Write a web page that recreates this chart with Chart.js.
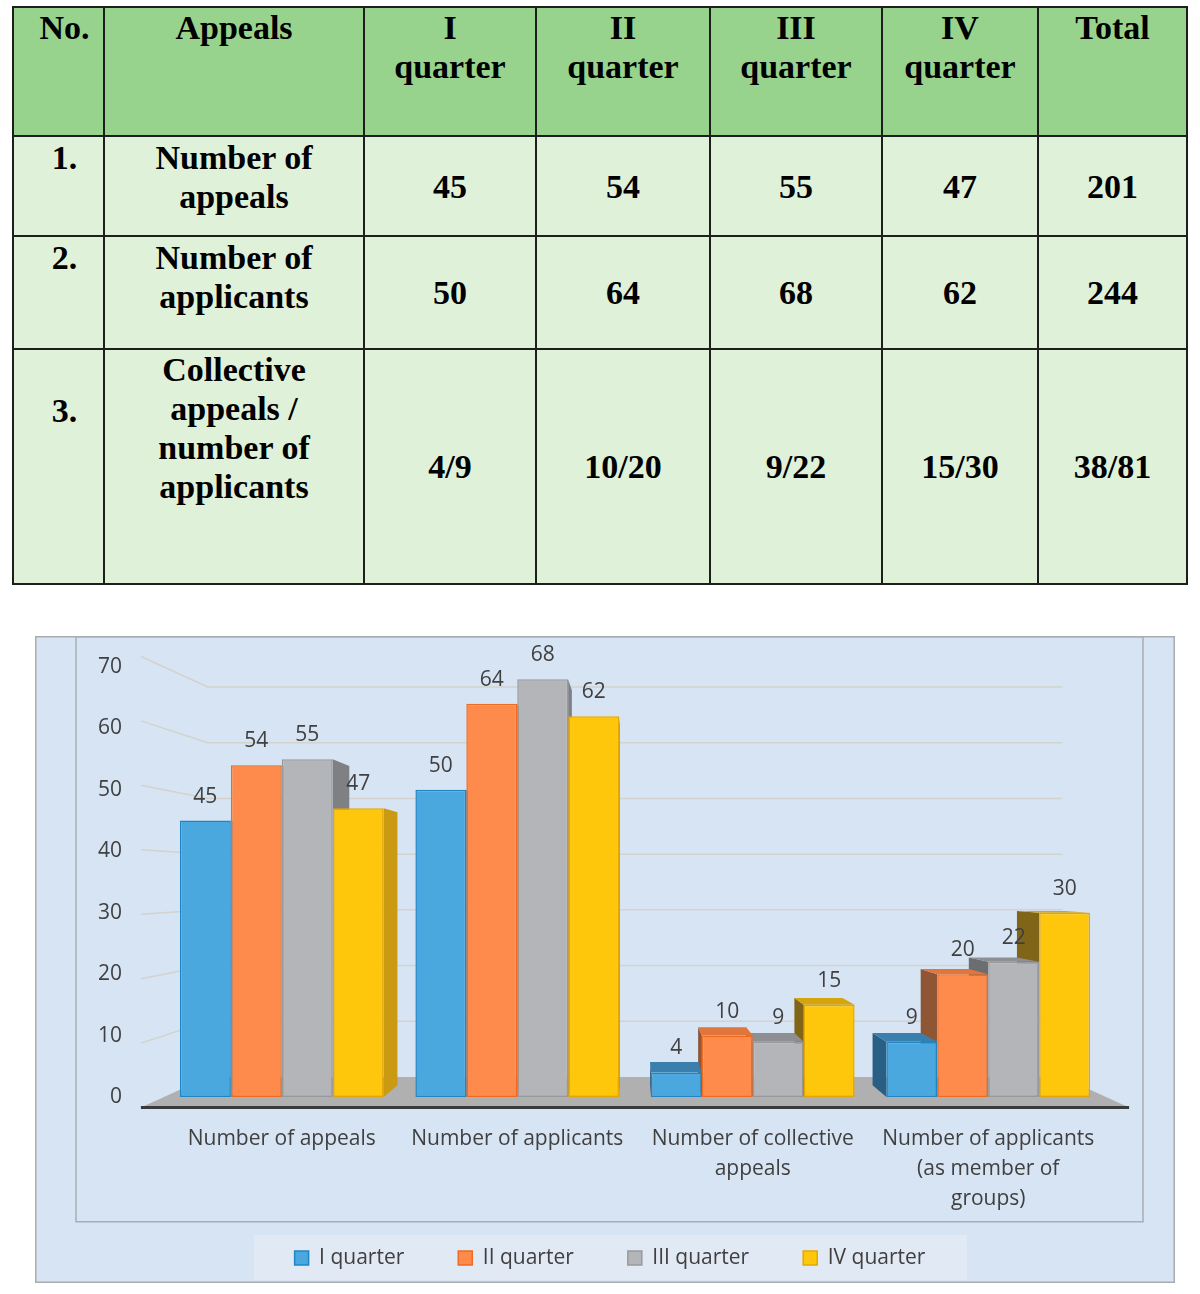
<!DOCTYPE html>
<html>
<head>
<meta charset="utf-8">
<script src="https://cdn.jsdelivr.net/npm/chart.js@4.4.1/dist/chart.umd.min.js"></script>
<style>
  body { margin: 0; background: #fff; width: 1200px; height: 1294px; position: relative; overflow: hidden; }
  table.stats {
    position: absolute; left: 12px; top: 6px;
    border-collapse: collapse; table-layout: fixed;
    font-family: "Liberation Serif", "Times New Roman", serif;
    font-weight: bold; font-size: 34px; line-height: 39px; color: #000;
  }
  table.stats td { border: 2px solid #1e1e1e; text-align: center; vertical-align: top; padding: 0 2px; }
  table.stats tr.head td { background: #98d38e; padding-top: 0; }
  table.stats tr.body td { background: #e0f1da; }
  table.stats tr.body td.num { vertical-align: middle; }
  table.stats td.no { padding-left: 14px; }
  #chart-box { position: absolute; left: 35px; top: 636px; width: 1140px; height: 647px; }
</style>
</head>
<body>
<table class="stats" id="stats-table"></table>
<div id="chart-box"><canvas id="chart-canvas"></canvas></div>
<script>
// table data
const tableHead = ["No.", "Appeals", "I<br>quarter", "II<br>quarter", "III<br>quarter", "IV<br>quarter", "Total"];
const rowNumbers = ["1.", "2.", "3."];
const rowNames = ["Number of<br>appeals", "Number of<br>applicants", "Collective<br>appeals /<br>number of<br>applicants"];
const rowValues = [
  ["45", "54", "55", "47", "201"],
  ["50", "64", "68", "62", "244"],
  ["4/9", "10/20", "9/22", "15/30", "38/81"]
];
const colWidths = [91, 260, 172, 174, 172, 156, 149];
const rowHeights = [129, 100, 113, 235];

// chart data
const categories = [
  ["Number of appeals"],
  ["Number of applicants"],
  ["Number of collective", "appeals"],
  ["Number of applicants", "(as member of", "groups)"]
];
const quarterNames = ["I quarter", "II quarter", "III quarter", "IV quarter"];
const q1Values = [45, 50, 4, 9];
const q2Values = [54, 64, 10, 20];
const q3Values = [55, 68, 9, 22];
const q4Values = [47, 62, 15, 30];
const yTicks = [0, 10, 20, 30, 40, 50, 60, 70];

const frontColors = ["#4aa8de", "#fe8b4b", "#b4b5b8", "#ffc70b"];
const edgeColors = ["#1f86c6", "#f06a1f", "#98999c", "#e6a600"];
const sideRightColors = ["#3a86b6", "#cf6c36", "#7f8083", "#c99a12"];
const sideLeftColors = ["#2a5f85", "#8e5635", "#6c6d70", "#806418"];
const topColors = ["#3b7fae", "#e0763b", "#8e8f92", "#d6a40c"];

function buildTable() {
  const table = document.getElementById("stats-table");
  let html = "<colgroup>" + colWidths.map((w) => `<col style="width:${w}px">`).join("") + "</colgroup>";
  html += `<tr class="head" style="height:${rowHeights[0]}px">` +
    tableHead.map((t, i) => `<td${i === 0 ? ' class="no"' : ""}>${t}</td>`).join("") + "</tr>";
  rowNumbers.forEach((n, r) => {
    const pad = r === 2 ? ' style="padding-top:41px"' : ' style="padding-top:1px"';
    html += `<tr class="body" style="height:${rowHeights[r + 1]}px">` +
      `<td class="no"${pad}>${n}</td><td${r === 2 ? "" : ' style="padding-top:1px"'}>${rowNames[r]}</td>` +
      rowValues[r].map((v) => `<td class="num">${v}</td>`).join("") + "</tr>";
  });
  table.innerHTML = html;
}
buildTable();

// perspective factors (relative to the plot centre)
const BACK_WALL = 0.907;
const FLOOR_FRONT = 1.049;
const BAR_DEPTH = 0.945;

function proj(ca, x, y, s) {
  const cx = (ca.left + ca.right) / 2;
  const cy = (ca.top + ca.bottom) / 2;
  return [cx + (x - cx) * s, cy + (y - cy) * s];
}

function poly(ctx, pts, fill) {
  ctx.beginPath();
  ctx.moveTo(pts[0][0], pts[0][1]);
  for (let i = 1; i < pts.length; i++) ctx.lineTo(pts[i][0], pts[i][1]);
  ctx.closePath();
  ctx.fillStyle = fill;
  ctx.fill();
}

const backdrop = {
  id: "backdrop",
  beforeDraw(chart) {
    const { ctx, width, height, legend } = chart;
    ctx.save();
    ctx.fillStyle = "#d7e4f4";
    ctx.fillRect(0, 0, width, height);
    ctx.strokeStyle = "#a9abae";
    ctx.lineWidth = 1.5;
    ctx.strokeRect(0.75, 0.75, width - 1.5, height - 1.5);
    ctx.strokeStyle = "#a8adb3";
    ctx.strokeRect(41, 0.75, 1067, 585);
    // legend panel
    const boxes = legend.legendHitBoxes;
    if (boxes.length) {
      const last = boxes[boxes.length - 1];
      const mid = (boxes[0].left + last.left + last.width) / 2;
      const yc = boxes[0].top + boxes[0].height / 2;
      ctx.fillStyle = "#e1e9f4";
      ctx.fillRect(mid - 356, yc - 23, 713, 45);
    }
    ctx.restore();
  },
  beforeDatasetsDraw(chart) {
    const { ctx, chartArea: ca } = chart;
    const yScale = chart.scales.y;
    const base = yScale.getPixelForValue(0);
    ctx.save();
    // grid lines on back wall
    ctx.strokeStyle = "#d3d2cc";
    ctx.lineWidth = 1.5;
    yScale.ticks.forEach((t) => {
      if (t.value === 0) return;
      const y = yScale.getPixelForValue(t.value);
      const a = proj(ca, ca.left, y, FLOOR_FRONT);
      const b = proj(ca, ca.left, y, BACK_WALL);
      const c = proj(ca, ca.right, y, BACK_WALL);
      ctx.beginPath();
      ctx.moveTo(a[0], a[1]);
      ctx.lineTo(b[0], b[1]);
      ctx.lineTo(c[0], c[1]);
      ctx.stroke();
    });
    // floor
    const fl = proj(ca, ca.left, base, FLOOR_FRONT), fr = proj(ca, ca.right, base, FLOOR_FRONT);
    const bl = proj(ca, ca.left, base, BACK_WALL), br = proj(ca, ca.right, base, BACK_WALL);
    poly(ctx, [fl, fr, br, bl], "#b0b0b0");
    ctx.strokeStyle = "#3a3a3a";
    ctx.lineWidth = 3;
    ctx.beginPath();
    ctx.moveTo(fl[0], fl[1]);
    ctx.lineTo(fr[0], fr[1]);
    ctx.stroke();

    // bar depth faces, farthest from centre first
    const cx = (ca.left + ca.right) / 2;
    const bars = [];
    chart.data.datasets.forEach((ds, di) => {
      chart.getDatasetMeta(di).data.forEach((el) => bars.push({ el, di }));
    });
    bars.sort((p, q) => Math.abs(q.el.x - cx) - Math.abs(p.el.x - cx));
    bars.forEach(({ el, di }) => {
      const { x, y, base: b0, width: w } = el.getProps(["x", "y", "base", "width"], true);
      const l = x - w / 2, r = x + w / 2;
      const bTL = proj(ca, l, y, BAR_DEPTH), bTR = proj(ca, r, y, BAR_DEPTH);
      const bBL = proj(ca, l, b0, BAR_DEPTH), bBR = proj(ca, r, b0, BAR_DEPTH);
      if (x < cx) {
        poly(ctx, [[r, y], bTR, bBR, [r, b0]], sideRightColors[di]);
      } else {
        poly(ctx, [[l, y], bTL, bBL, [l, b0]], sideLeftColors[di]);
      }
      if (bTL[1] < y) {
        poly(ctx, [[l, y], [r, y], bTR, bTL], topColors[di]);
      }
    });
    ctx.restore();
  },
  afterDatasetsDraw(chart) {
    const { ctx } = chart;
    ctx.save();
    ctx.font = '21px "Open Sans"';
    ctx.fillStyle = "#404040";
    ctx.textAlign = "center";
    ctx.textBaseline = "middle";
    chart.data.datasets.forEach((ds, di) => {
      chart.getDatasetMeta(di).data.forEach((el, i) => {
        ctx.fillText(String(ds.data[i]), el.x, el.y - 24);
      });
    });
    ctx.restore();
  }
};

const seriesValues = [q1Values, q2Values, q3Values, q4Values];

function noVerticalPadding(scale) {
  scale.paddingTop = 0;
  scale.paddingBottom = 0;
}

const chart = new Chart(document.getElementById("chart-canvas"), {
  type: "bar",
  data: {
    labels: categories,
    datasets: quarterNames.map((name, i) => ({
      label: name,
      data: seriesValues[i],
      backgroundColor: frontColors[i],
      borderColor: edgeColors[i],
      borderWidth: 1.5,
      borderSkipped: false,
      barPercentage: 1,
      categoryPercentage: 0.865
    }))
  },
  options: {
    responsive: true,
    maintainAspectRatio: false,
    animation: false,
    layout: { padding: { left: 40, right: 30, top: 31, bottom: 4.5 } },
    plugins: {
      tooltip: { enabled: false },
      legend: {
        position: "bottom",
        labels: {
          boxWidth: 14,
          boxHeight: 14,
          padding: 54,
          color: "#404040",
          font: { family: "Open Sans", size: 21 }
        }
      }
    },
    scales: {
      x: {
        grid: { display: false, drawTicks: false },
        border: { display: false },
        ticks: {
          color: "#404040",
          font: { family: "Open Sans", size: 21, lineHeight: "30px" },
          padding: 27,
          maxRotation: 0,
          autoSkip: false
        },
        afterFit(scale) {
          scale.height = 96.5;
          // let the three-line label run into the legend margin instead of being cut off
          scale._computeLabelArea = () => null;
        }
      },
      y: {
        min: 0,
        max: 70,
        grid: { display: false, drawTicks: false },
        border: { display: false },
        afterBuildTicks(scale) { scale.ticks = yTicks.map((v) => ({ value: v })); },
        ticks: {
          color: "#404040",
          font: { family: "Open Sans", size: 21 },
          padding: 42
        },
        afterFit(scale) { scale.width = 89; noVerticalPadding(scale); }
      },
      // empty right-hand margin so the legend row sits where the original has it
      yRight: {
        position: "right",
        min: 0,
        max: 1,
        grid: { display: false, drawTicks: false },
        border: { display: false },
        ticks: { display: false },
        afterFit(scale) { scale.width = 39; noVerticalPadding(scale); }
      }
    }
  },
  plugins: [backdrop]
});
</script>
</body>
</html>
